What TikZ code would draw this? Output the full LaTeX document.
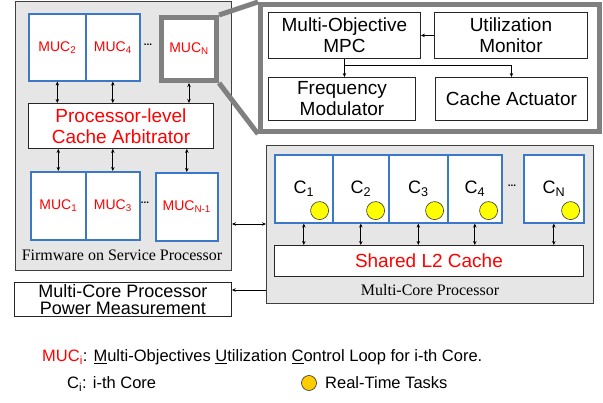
\documentclass[tikz,border=0pt]{standalone}
\usepackage{fontspec}
\setmainfont{Liberation Sans}
\newfontfamily\tms{Liberation Serif}
\usetikzlibrary{arrows.meta,calc}
\definecolor{panelgray}{HTML}{E6E6E6}
\definecolor{zoomgray}{HTML}{808080}
\definecolor{mucblue}{HTML}{3C78C8}
\definecolor{taskyellow}{HTML}{FFFF00}
\definecolor{legendgold}{HTML}{FFCC00}
\begin{document}
\begin{tikzpicture}[x=1pt,y=-1pt,
  panel/.style={draw=black!75,fill=panelgray,line width=1pt,anchor=north west,inner sep=0pt},
  blk/.style={draw=black!85,fill=white,line width=0.9pt,anchor=north west,inner sep=0pt,align=center,font=\fontsize{19}{21}\selectfont},
  mucbox/.style={draw=mucblue,fill=white,line width=1.6pt,anchor=north west,inner sep=0pt,text=red,font=\fontsize{14}{16}\selectfont},
  corebox/.style={draw=mucblue,fill=white,line width=1.6pt,anchor=north west,inner sep=0pt,font=\fontsize{18}{20}\selectfont},
  zoombox/.style={draw=zoomgray,line width=5pt,anchor=north west,inner sep=0pt,fill=white},
  zoomline/.style={draw=zoomgray,line width=5pt},
  dots/.style={font=\fontsize{10}{10}\selectfont\bfseries,inner sep=0pt},
  task/.style={circle,draw=black!80,fill=taskyellow,line width=0.6pt,minimum size=18pt,inner sep=0pt},
  dbl/.style={{Stealth[length=4pt,width=3.5pt]}-{Stealth[length=4pt,width=3.5pt]},line width=0.7pt},
  arr/.style={-{Stealth[length=4pt,width=3.5pt]},line width=0.9pt},
  serifcap/.style={font=\tms\fontsize{16}{18}\selectfont,inner sep=0pt},
  legend/.style={font=\fontsize{16.5}{18}\selectfont,inner sep=0pt,anchor=base west}
]
\useasboundingbox (0,0) rectangle (603,403);

% ---------- Firmware panel ----------
\node[panel,minimum width=216pt,minimum height=269pt] (fw) at (15,1) {};
\node[mucbox,minimum width=57pt,minimum height=67pt] (m2) at (28,13) {MUC\textsubscript{2}};
\node[mucbox,minimum width=54pt,minimum height=67pt] (m4) at (85,13) {MUC\textsubscript{4}};
\node[dots] (d1) at (148,45) {...};
\node[draw=zoomgray,fill=white,line width=5pt,anchor=north west,inner sep=0pt,minimum width=55pt,minimum height=63pt,text=red,font=\fontsize{14}{16}\selectfont] (mn) at (159,15) {MUC\textsubscript{N}};
\node[blk,minimum width=185pt,minimum height=45pt,text=red] (arb) at (28,103) {Processor-level\\Cache Arbitrator};
\node[mucbox,minimum width=55pt,minimum height=68pt] (m1) at (30,171) {MUC\textsubscript{1}};
\node[mucbox,minimum width=54pt,minimum height=68pt] (m3) at (85,171) {MUC\textsubscript{3}};
\node[dots] (d2) at (145,203) {...};
\node[mucbox,minimum width=62pt,minimum height=68pt] (mn1) at (155,172) {MUC\textsubscript{N-1}};
\node[serifcap] (fwlab) at (122,255) {Firmware on Service Processor};

\draw[dbl] (m2.south) -- (m2.south |- arb.north);
\draw[dbl] (m4.south) -- (m4.south |- arb.north);
\draw[dbl] (mn.south) -- (mn.south |- arb.north);
\draw[dbl] (arb.south -| m1.north) -- (m1.north);
\draw[dbl] (arb.south -| m3.north) -- (m3.north);
\draw[dbl] (arb.south -| mn1.north) -- (mn1.north);

% ---------- Zoomed controller ----------
\node[zoombox,minimum width=339pt,minimum height=127pt] (big) at (258,2) {};
\draw[zoomline] (mn.north east) -- (big.north west);
\draw[zoomline] (mn.south east) -- (big.south west);
\node[blk,minimum width=152pt,minimum height=46pt] (mpc) at (268,12) {Multi-Objective\\MPC};
\node[blk,minimum width=153pt,minimum height=46pt] (um) at (434,12) {Utilization\\Monitor};
\node[blk,minimum width=147pt,minimum height=43pt] (fm) at (268,77) {Frequency\\Modulator};
\node[blk,minimum width=152pt,minimum height=43pt] (ca) at (435,77) {Cache Actuator};
\draw[arr] (um.west) -- (mpc.east);
\coordinate (split) at (344,65);
\draw[arr] (mpc.south) -- (mpc.south |- fm.north);
\draw[arr] (mpc.south |- split) -| (ca.north);

% ---------- Multi-core processor ----------
\node[panel,minimum width=327pt,minimum height=158pt] (mc) at (266,145) {};
\node[corebox,minimum width=58pt,minimum height=68pt] (c1) at (274,154) {C\textsubscript{1}};
\node[corebox,minimum width=56pt,minimum height=68pt] (c2) at (332,154) {C\textsubscript{2}};
\node[corebox,minimum width=59pt,minimum height=68pt] (c3) at (388,154) {C\textsubscript{3}};
\node[corebox,minimum width=54pt,minimum height=68pt] (c4) at (447,154) {C\textsubscript{4}};
\node[dots] (d3) at (512,186) {...};
\node[corebox,minimum width=60pt,minimum height=68pt] (cn) at (523,154) {C\textsubscript{N}};
\foreach \c in {c1,c2,c3,c4,cn}{
  \node[task] (t\c) at ($(\c.south east)+(-14,-13)$) {};
}
\node[blk,minimum width=309pt,minimum height=31pt,text=red] (l2) at (274,245) {Shared L2 Cache};
\foreach \c in {c1,c2,c3,c4,cn}{
  \draw[dbl] (\c.south) -- (\c.south |- l2.north);
}
\node[serifcap] (mclab) at (430,290) {Multi-Core Processor};

% ---------- Power measurement ----------
\node[blk,minimum width=217pt,minimum height=34pt,font=\fontsize{18}{17.5}\selectfont] (pw) at (14,282) {Multi-Core Processor\\Power Measurement};

\coordinate (ylink) at (0,224);
\draw[dbl] (fw.east |- ylink) -- (mc.west |- ylink);
\coordinate (ypow) at (0,290);
\draw[arr] (mc.west |- ypow) -- (pw.east |- ypow);

% ---------- Legend ----------
\node[legend] (leg1) at (42,362) {\textcolor{red}{MUC\textsubscript{i}}: \underline{M}ulti-Objectives \underline{U}tilization \underline{C}ontrol Loop for i-th Core.};
\node[legend] (leg2) at (67,389) {C\textsubscript{i}: i-th Core};
\node[circle,draw=black!80,fill=legendgold,line width=0.6pt,minimum size=15pt,inner sep=0pt] (legc) at (309,383) {};
\node[legend] (leg3) at (325,389) {Real-Time Tasks};
\end{tikzpicture}
\end{document}
